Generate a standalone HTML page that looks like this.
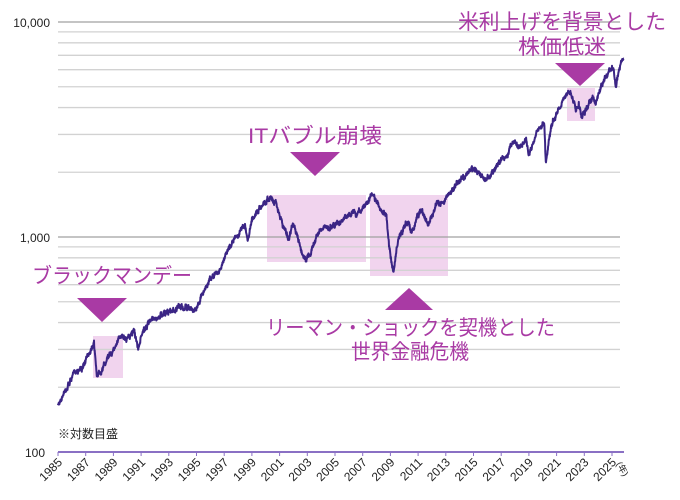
<!DOCTYPE html>
<html><head><meta charset="utf-8"><style>
html,body{margin:0;padding:0;background:#fff;}
svg{display:block;}
text{font-family:"Liberation Sans","Noto Sans CJK JP",sans-serif;}
</style></head><body>
<svg id="s" width="680" height="500" viewBox="0 0 680 500" xmlns="http://www.w3.org/2000/svg">
<rect width="680" height="500" fill="#fff"/>
<g fill="#f1d4ee">
<rect x="93" y="336" width="30" height="42"/>
<rect x="267" y="195" width="99" height="67"/>
<rect x="370" y="195" width="78" height="81"/>
<rect x="567" y="88" width="28" height="33"/>
</g>
<g id="grid" stroke="#d2d2d2" stroke-width="1.3"></g>
<line x1="58" y1="22" x2="620" y2="22" stroke="#a0a0a0" stroke-width="1.3"/>
<line x1="58" y1="237" x2="620" y2="237" stroke="#a0a0a0" stroke-width="1.3"/>
<line x1="58" y1="452" x2="624" y2="452" stroke="#8a70c4" stroke-width="2"/>
<g id="ticks" stroke="#8a70c4" stroke-width="1"></g>
<path id="ln" fill="none" stroke="#3b2585" stroke-width="2" stroke-linejoin="round"/>
<g fill="#a93aa4">
<polygon points="77,298 127,298 102,322"/>
<polygon points="290,152 340,152 315,176"/>
<polygon points="385,310 433,310 409,288"/>
<polygon points="555,63 605,63 580,86"/>
</g>
<g fill="#a93aa4" font-size="21">
<text x="32" y="283" textLength="160" lengthAdjust="spacingAndGlyphs">ブラックマンデー</text>
<text x="248" y="143" textLength="134" lengthAdjust="spacingAndGlyphs">ITバブル崩壊</text>
<text x="266" y="335" textLength="289" lengthAdjust="spacingAndGlyphs">リーマン・ショックを契機とした</text>
<text x="351" y="359" textLength="118" lengthAdjust="spacingAndGlyphs">世界金融危機</text>
<text x="458" y="29" textLength="208" lengthAdjust="spacingAndGlyphs">米利上げを背景とした</text>
<text x="518" y="54" textLength="88" lengthAdjust="spacingAndGlyphs">株価低迷</text>
</g>
<g font-size="12" fill="#222">
<text x="50" y="27" text-anchor="end">10,000</text>
<text x="50" y="242" text-anchor="end">1,000</text>
<text x="45" y="457" text-anchor="end">100</text>
<text x="58" y="438">※対数目盛</text>
</g>
<g id="yrs" font-size="12" fill="#222"></g>
</svg>
<script>
var ns="http://www.w3.org/2000/svg";
function Y(v){return 452-215*Math.log10(v/100);}
function X(y){return 58+(y-1985)*13.85;}
var g=document.getElementById('grid');
[1,10].forEach(function(m){for(var k=2;k<=9;k++){var y=Y(100*m*k);var l=document.createElementNS(ns,'line');l.setAttribute('x1',58);l.setAttribute('x2',620);l.setAttribute('y1',y);l.setAttribute('y2',y);g.appendChild(l);}});
var t=document.getElementById('ticks'),yr=document.getElementById('yrs');
for(var a=1985;a<=2025;a+=2){var x=X(a);var l=document.createElementNS(ns,'line');l.setAttribute('x1',x);l.setAttribute('x2',x);l.setAttribute('y1',452);l.setAttribute('y2',456);t.appendChild(l);
var tx=document.createElementNS(ns,'text');tx.setAttribute('transform','translate('+(x+5)+',463) rotate(-45)');tx.setAttribute('text-anchor','end');tx.textContent=a;yr.appendChild(tx);}
var tx=document.createElementNS(ns,'text');tx.setAttribute('transform','translate(616,464) rotate(60)');tx.setAttribute('font-size','9');tx.textContent='(年)';yr.appendChild(tx);
var K=[[1985,165],[1985.5,190],[1986.2,235],[1986.8,245],[1987.6,330],[1987.8,225],[1988.5,265],[1989.6,350],[1990,340],[1990.5,365],[1990.8,300],[1991.2,380],[1992,415],[1993,450],[1994,475],[1994.9,455],[1995.5,560],[1996,640],[1996.5,680],[1997,780],[1997.6,950],[1998.5,1150],[1998.7,960],[1999,1230],[1999.6,1380],[2000.2,1500],[2000.7,1480],[2001.2,1150],[2001.7,980],[2002,1150],[2002.5,900],[2002.8,790],[2003.2,820],[2003.8,1050],[2004.5,1120],[2005.5,1200],[2006.4,1300],[2006.5,1240],[2007.5,1530],[2007.8,1550],[2008.3,1350],[2008.7,1250],[2008.9,900],[2009.2,690],[2009.6,1000],[2010.3,1180],[2010.5,1050],[2011.3,1350],[2011.7,1130],[2012.3,1400],[2013,1500],[2014,1850],[2015,2080],[2015.7,1900],[2016.1,1870],[2016.8,2200],[2017.5,2450],[2018,2820],[2018.2,2600],[2018.8,2900],[2018.98,2400],[2019.5,2950],[2020.1,3380],[2020.22,2240],[2020.6,3300],[2021,3800],[2021.5,4350],[2022,4780],[2022.4,3900],[2022.6,4250],[2022.8,3600],[2023.3,4100],[2023.6,4550],[2023.8,4150],[2024.3,5200],[2024.9,6000],[2025.1,6100],[2025.28,5000],[2025.5,6000],[2025.85,6750]];
var s=7,d='';function r(){s=(s*16807)%2147483647;return s/2147483647-0.5;}
var first=true,w=0;
for(var i=0;i<K.length-1;i++){var a=K[i],b=K[i+1];var n=Math.max(2,Math.round((b[0]-a[0])*60));
for(var j=0;j<n;j++){var f=j/n;var yy=a[0]+(b[0]-a[0])*f;var v=Math.exp(Math.log(a[1])+(Math.log(b[1])-Math.log(a[1]))*f);
w=w*0.8+r()*3;var py=Y(v)+(j==0?0:w+r()*3);d+=(first?'M':'L')+X(yy).toFixed(1)+','+py.toFixed(1);first=false;}}
var L=K[K.length-1];d+='L'+X(L[0]).toFixed(1)+','+Y(L[1]).toFixed(1);
document.getElementById('ln').setAttribute('d',d);
</script>
</body></html>
